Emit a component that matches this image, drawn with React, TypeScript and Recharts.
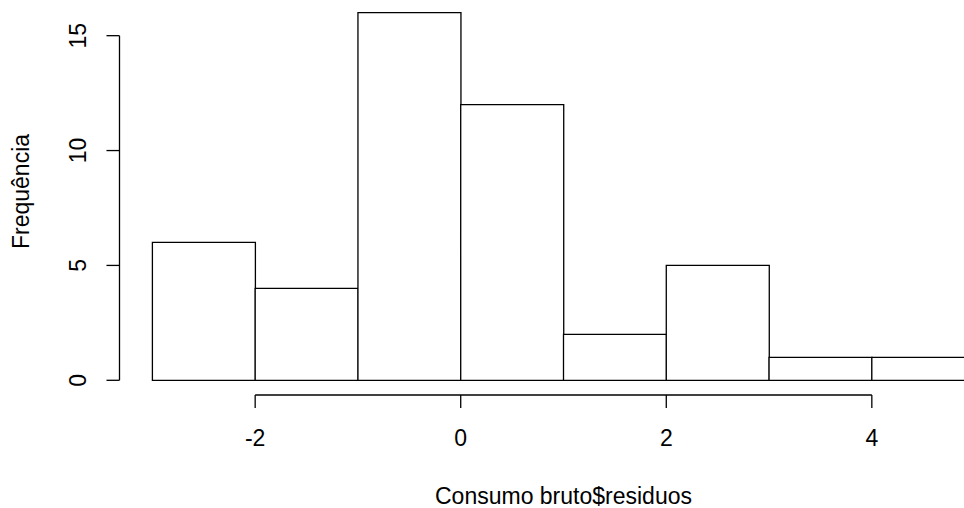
import { ComposedChart, Bar, XAxis, YAxis, ReferenceLine } from "recharts";

// histogram breaks and counts
const breaks = [-3, -2, -1, 0, 1, 2, 3, 4, 5];
const counts = [6, 4, 16, 12, 2, 5, 1, 1];
const xTicks = [-2, 0, 2, 4];
const yTicks = [0, 5, 10, 15];

// R extends the ranges by 4% on each side
const xDomain = [-3.32, 5.32];
const yDomain = [-0.64, 16.64];

const data = counts.map((count, i) => ({
  bin: `${breaks[i]}:${breaks[i + 1]}`,
  mid: (breaks[i] + breaks[i + 1]) / 2,
  count,
}));

const font = "'Liberation Sans', Arial, sans-serif";

const XTick = (props: any) => {
  const { x, y, payload } = props;
  return (
    <text x={x} y={y + 38} textAnchor="middle" fontSize={23} fontFamily={font} fill="#000">
      {payload.value}
    </text>
  );
};

const YTick = (props: any) => {
  const { x, y, payload } = props;
  return (
    <text
      x={x}
      y={y}
      transform={`rotate(-90, ${x}, ${y})`}
      textAnchor="middle"
      fontSize={23}
      fontFamily={font}
      fill="#000"
    >
      {payload.value}
    </text>
  );
};

const XLabel = (props: any) => {
  const { viewBox } = props;
  return (
    <text
      x={viewBox.x + viewBox.width / 2}
      y={viewBox.y + 109}
      textAnchor="middle"
      fontSize={23}
      fontFamily={font}
      fill="#000"
    >
      Consumo bruto$residuos
    </text>
  );
};

const YLabel = (props: any) => {
  const { viewBox } = props;
  const cy = viewBox.y + viewBox.height / 2 - 5;
  return (
    <text
      x={29}
      y={cy}
      transform={`rotate(-90, 29, ${cy})`}
      textAnchor="middle"
      fontSize={23}
      fontFamily={font}
      fill="#000"
    >
      Frequência
    </text>
  );
};

const App = () => (
  <div style={{ position: "absolute", left: 0, top: 0, width: 964, height: 508, overflow: "hidden", background: "#fff" }}>
    <div style={{ position: "absolute", left: 0, top: -1.8 }}>
      <ComposedChart
        width={1020}
        height={510}
        data={data}
        margin={{ top: 0, right: 12.5, bottom: 53, left: 0 }}
        barCategoryGap={0}
        barGap={0}
      >
        <XAxis xAxisId="cat" dataKey="bin" hide height={0} padding={{ left: 32.9, right: 32.9 }} />
        <XAxis
          xAxisId="num"
          dataKey="mid"
          type="number"
          domain={xDomain}
          allowDataOverflow
          ticks={xTicks}
          axisLine={false}
          tickLine={{ stroke: "#000", strokeWidth: 1.3 }}
          tickSize={13}
          tickMargin={0}
          tick={<XTick />}
          height={60}
          label={<XLabel />}
        />
        <YAxis
          type="number"
          domain={yDomain}
          allowDataOverflow
          ticks={yTicks}
          axisLine={false}
          tickLine={{ stroke: "#000", strokeWidth: 1.3 }}
          tickSize={13}
          tickMargin={20.5}
          tick={<YTick />}
          width={119.5}
          label={<YLabel />}
        />
        <Bar
          xAxisId="cat"
          dataKey="count"
          fill="#fff"
          stroke="#000"
          strokeWidth={1.3}
          isAnimationActive={false}
        />
        <ReferenceLine
          xAxisId="num"
          ifOverflow="visible"
          stroke="#000"
          strokeWidth={1.3}
          segment={[
            { x: xDomain[0], y: yTicks[0] },
            { x: xDomain[0], y: yTicks[yTicks.length - 1] },
          ]}
        />
        <ReferenceLine
          xAxisId="num"
          ifOverflow="visible"
          stroke="#000"
          strokeWidth={1.3}
          segment={[
            { x: xTicks[0], y: yDomain[0] },
            { x: xTicks[xTicks.length - 1], y: yDomain[0] },
          ]}
        />
      </ComposedChart>
    </div>
  </div>
);

export default App;
